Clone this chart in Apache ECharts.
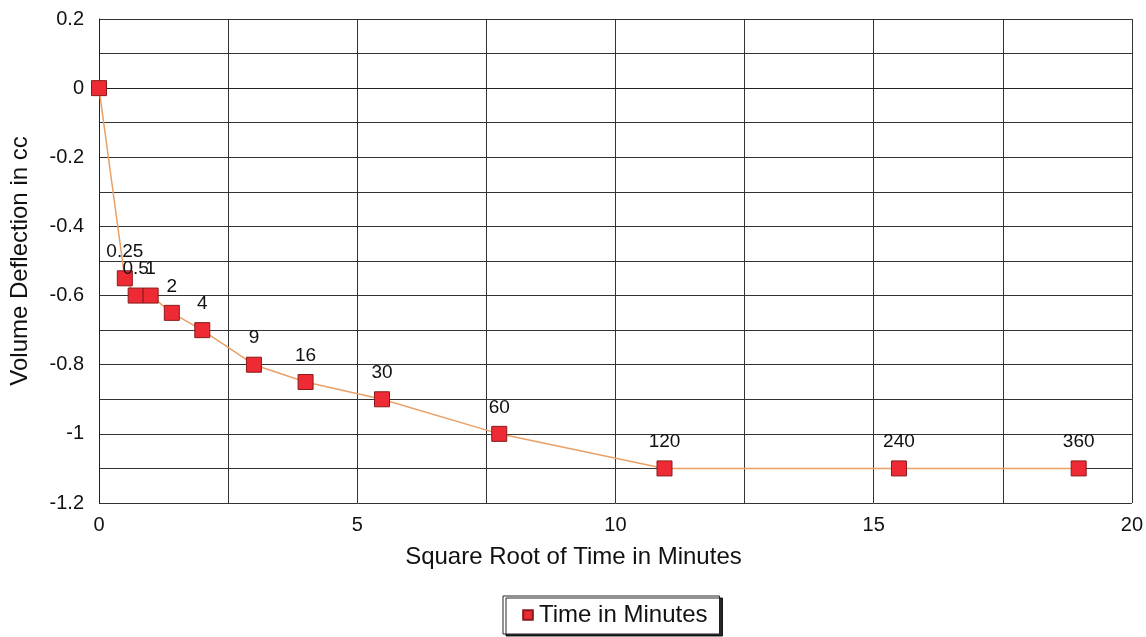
<!DOCTYPE html>
<html>
<head>
<meta charset="utf-8">
<script src="https://cdn.jsdelivr.net/npm/echarts@6/dist/echarts.min.js"></script>
<style>
  html, body { margin: 0; padding: 0; background: #fff; }
  #chart { width: 1146px; height: 637px; }
</style>
</head>
<body>
<div id="chart"></div>
<script>
// time labels (minutes) and the points
const timeLabels = ["0", "0.25", "0.5", "1", "2", "4", "9", "16", "30", "60", "120", "240", "360"];
const sqrtTime = [0, 0.5, 0.71, 1, 1.41, 2, 3, 4, 5.48, 7.75, 10.95, 15.49, 18.97];
const deflection = [0, -0.55, -0.6, -0.6, -0.65, -0.7, -0.8, -0.85, -0.9, -1, -1.1, -1.1, -1.1];

const points = sqrtTime.map((x, i) => ({
  value: [x, deflection[i]],
  label: { show: i > 0, formatter: timeLabels[i] }
}));

const chart = echarts.init(document.getElementById("chart"));
chart.setOption({
  animation: false,
  textStyle: { fontFamily: "Liberation Sans, Arial, sans-serif" },
  grid: { left: 99, right: 13, top: 19, bottom: 134 },
  xAxis: {
    type: "value",
    min: 0,
    max: 20,
    interval: 2.5,
    name: "Square Root of Time in Minutes",
    nameLocation: "middle",
    nameGap: 42,
    nameTextStyle: { color: "#111", fontSize: 24, padding: [0, 84, 0, 0] },
    axisLine: { show: true, lineStyle: { color: "#222" } },
    axisTick: { show: false },
    axisLabel: {
      color: "#111",
      fontSize: 20,
      margin: 12,
      formatter: v => (Math.round(v * 10) % 50 === 0 ? String(Math.round(v)) : "")
    },
    splitLine: { show: true, lineStyle: { color: "#333", width: 1 } }
  },
  yAxis: {
    type: "value",
    min: -1.2,
    max: 0.2,
    interval: 0.1,
    name: "Volume Deflection in cc",
    nameLocation: "middle",
    nameGap: 67,
    nameTextStyle: { color: "#111", fontSize: 24 },
    axisLine: { show: true, lineStyle: { color: "#222" } },
    axisTick: { show: false },
    axisLabel: {
      color: "#111",
      fontSize: 20,
      margin: 15,
      formatter: v => {
        const k = Math.round(v * 10);
        if (k % 2 !== 0) return "";
        return String(k / 10);
      }
    },
    splitLine: { show: true, lineStyle: { color: "#333", width: 1 } }
  },
  legend: {
    bottom: 3,
    left: 503,
    itemWidth: 12,
    itemHeight: 12,
    itemGap: 10,
    padding: [7, 12, 7, 18],
    borderColor: "#222",
    borderWidth: 1,
    shadowColor: "rgba(0,0,0,0.85)",
    shadowOffsetX: 3,
    shadowOffsetY: 2,
    backgroundColor: "#fff",
    textStyle: { color: "#111", fontSize: 24 },
    data: ["Time in Minutes"]
  },
  series: [
    {
      name: "Time in Minutes",
      type: "line",
      data: points,
      symbol: "rect",
      symbolSize: 15,
      itemStyle: { color: "#ee2a35", borderColor: "#8a1a1a", borderWidth: 1 },
      lineStyle: { color: "#e9a066", width: 1.5 },
      label: { position: "top", distance: 9, color: "#111", fontSize: 19 }
    }
  ]
});
</script>
</body>
</html>
